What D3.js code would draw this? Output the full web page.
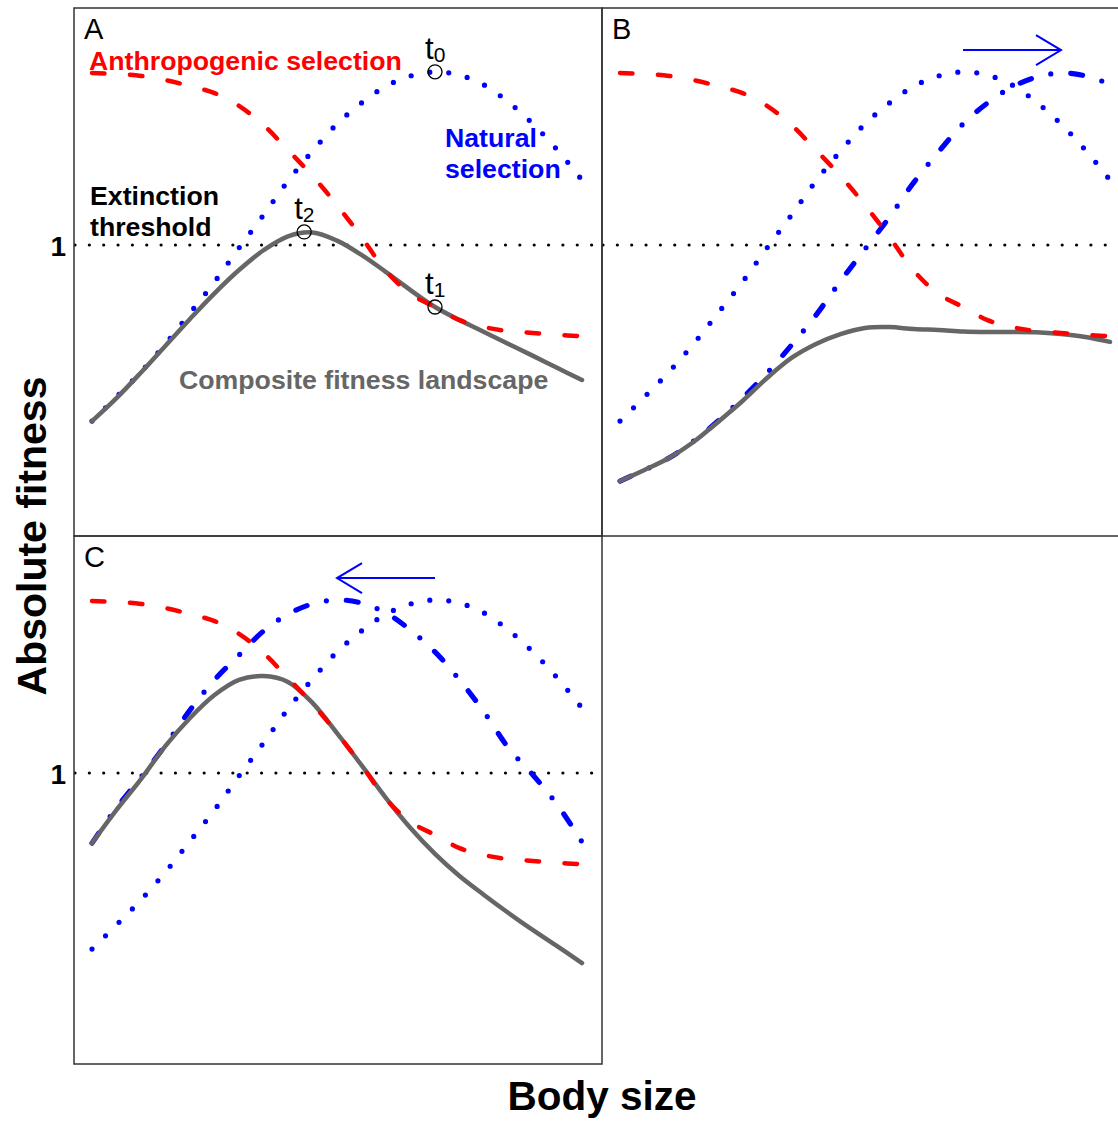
<!DOCTYPE html>
<html>
<head>
<meta charset="utf-8">
<script src="https://cdn.jsdelivr.net/npm/d3@7"></script>
<style>
	body { margin: 0; background: #fff; }
	svg { display: block; font-family: "Liberation Sans", Arial, sans-serif; }
</style>
</head>
<body>
<svg class="canvas"></svg>
<script>
const bodySize = [0, 0.5, 1, 1.5, 2, 2.5, 3, 3.5, 4, 4.5, 5, 5.5, 6, 6.5, 7, 7.5, 8, 8.5, 9, 9.5, 10];

// absolute fitness (1 = extinction threshold)
const anthropogenic = [1.591, 1.588, 1.581, 1.567, 1.546, 1.522, 1.478, 1.412, 1.326, 1.237, 1.137, 1.027, 0.911, 0.832, 0.787, 0.742, 0.718, 0.704, 0.698, 0.691, 0.687];
const naturalOriginal = [0.395, 0.478, 0.564, 0.660, 0.766, 0.873, 0.990, 1.103, 1.220, 1.323, 1.416, 1.488, 1.546, 1.581, 1.595, 1.584, 1.550, 1.491, 1.416, 1.326, 1.223];
const compositeA = [0.395, 0.474, 0.562, 0.654, 0.746, 0.834, 0.914, 0.982, 1.030, 1.043, 1.015, 0.966, 0.907, 0.845, 0.787, 0.742, 0.701, 0.660, 0.619, 0.577, 0.536];

const naturalLarger = [0.189, 0.227, 0.268, 0.326, 0.395, 0.474, 0.560, 0.656, 0.759, 0.876, 0.986, 1.096, 1.216, 1.320, 1.416, 1.488, 1.543, 1.577, 1.591, 1.581, 1.553];
const compositeB = [0.189, 0.227, 0.268, 0.323, 0.392, 0.464, 0.543, 0.612, 0.660, 0.694, 0.715, 0.718, 0.711, 0.708, 0.703, 0.701, 0.701, 0.700, 0.694, 0.684, 0.667];

const naturalSmaller = [0.759, 0.880, 0.986, 1.096, 1.216, 1.320, 1.405, 1.488, 1.546, 1.581, 1.595, 1.584, 1.550, 1.491, 1.416, 1.320, 1.210, 1.086, 0.993, 0.890, 0.763];
const compositeC = [0.759, 0.873, 0.979, 1.093, 1.189, 1.268, 1.320, 1.333, 1.313, 1.241, 1.137, 1.027, 0.914, 0.811, 0.722, 0.646, 0.581, 0.519, 0.460, 0.404, 0.347];

// time points marked in panel A
const markerNames = ["0", "1", "2"];
const markerX = [7, 7, 4.33];
const markerY = [1.595, 0.787, 1.045];

// shift of the natural optimum (from, to)
const shiftB = [7, 9];
const shiftC = [7, 5];
const arrowLevel = 1.67;

const width = 1118;
const height = 1124;
const size = 528;

const panels = [
	{ name: "A", left: 74, top: 8, shifted: null, composite: compositeA, arrow: null },
	{ name: "B", left: 602, top: 8, shifted: naturalLarger, composite: compositeB, arrow: shiftB },
	{ name: "C", left: 74, top: 536, shifted: naturalSmaller, composite: compositeC, arrow: shiftC }
];

const x = d3.scaleLinear().domain([0, 10]).range([18, 508]);
const y = d3.scaleLinear().domain([0, 1]).range([528, 237]);

const line = d3.line()
	.x((d, i) => x(bodySize[i]))
	.y(d => y(d))
	.curve(d3.curveCatmullRom);

const svg = d3.select(".canvas")
	.attr("width", width)
	.attr("height", height);

panels.forEach(p => {
	svg.append("clipPath")
		.attr("id", "clip" + p.name)
		.append("rect")
		.attr("width", size)
		.attr("height", size);

	const g = svg.append("g")
		.attr("transform", `translate(${p.left},${p.top})`);

	const inner = g.append("g").attr("clip-path", `url(#clip${p.name})`);

	// extinction threshold
	inner.append("line")
		.attr("x1", 1)
		.attr("x2", size)
		.attr("y1", y(1))
		.attr("y2", y(1))
		.attr("stroke", "#000")
		.attr("stroke-width", 3.2)
		.attr("stroke-linecap", "round")
		.attr("stroke-dasharray", "0,14.35");

	inner.append("path")
		.attr("d", line(naturalOriginal))
		.attr("fill", "none")
		.attr("stroke", "#0000ff")
		.attr("stroke-width", 5.2)
		.attr("stroke-linecap", "round")
		.attr("stroke-dasharray", "0,19");

	if (p.shifted) {
		inner.append("path")
			.attr("d", line(p.shifted))
			.attr("fill", "none")
			.attr("stroke", "#0000ff")
			.attr("stroke-width", 5.2)
			.attr("stroke-linecap", "round")
			.attr("stroke-dasharray", "12,20,0,20");
	}

	inner.append("path")
		.attr("d", line(p.composite))
		.attr("fill", "none")
		.attr("stroke", "#666")
		.attr("stroke-width", 4.5)
		.attr("stroke-linecap", "round");

	inner.append("path")
		.attr("d", line(anthropogenic))
		.attr("fill", "none")
		.attr("stroke", "#ff0000")
		.attr("stroke-width", 4.5)
		.attr("stroke-linecap", "round")
		.attr("stroke-dasharray", "12.5,25.5");

	if (p.arrow) {
		const ay = y(arrowLevel);
		const x0 = x(p.arrow[0]), x1 = x(p.arrow[1]);
		const dir = Math.sign(x1 - x0);
		inner.append("line")
			.attr("x1", x0).attr("x2", x1)
			.attr("y1", ay).attr("y2", ay)
			.attr("stroke", "#0000ff")
			.attr("stroke-width", 2);
		inner.append("polyline")
			.attr("points", [[x1 - dir * 25, ay - 15], [x1, ay], [x1 - dir * 25, ay + 15]].join(" "))
			.attr("fill", "none")
			.attr("stroke", "#0000ff")
			.attr("stroke-width", 2);
	}

	g.append("rect")
		.attr("width", size)
		.attr("height", size)
		.attr("fill", "none")
		.attr("stroke", "#333")
		.attr("stroke-width", 1.5);

	g.append("text")
		.attr("x", 10)
		.attr("y", 31)
		.attr("font-size", 29)
		.text(p.name);

	if (p.left === 74) {
		g.append("text")
			.attr("x", -8)
			.attr("y", y(1) + 11)
			.attr("text-anchor", "end")
			.attr("font-size", 28)
			.attr("font-weight", "bold")
			.text("1");
	}

	if (p.name === "A") {
		const marks = g.append("g");
		markerNames.forEach((m, i) => {
			marks.append("circle")
				.attr("cx", x(markerX[i]))
				.attr("cy", y(markerY[i]))
				.attr("r", 7)
				.attr("fill", "none")
				.attr("stroke", "#000")
				.attr("stroke-width", 1.3);
			const t = marks.append("text")
				.attr("x", x(markerX[i]) - 10)
				.attr("y", y(markerY[i]) - 13)
				.attr("font-size", 31);
			t.append("tspan").text("t");
			t.append("tspan").attr("font-size", 21).attr("dy", 3).text(m);
		});

		g.append("text")
			.attr("x", 15)
			.attr("y", 62)
			.attr("font-size", 26.7)
			.attr("font-weight", "bold")
			.attr("fill", "#ff0000")
			.text("Anthropogenic selection");

		const nat = g.append("text")
			.attr("font-size", 26.7)
			.attr("font-weight", "bold")
			.attr("fill", "#0000ff");
		nat.append("tspan").attr("x", 371).attr("y", 139).text("Natural");
		nat.append("tspan").attr("x", 371).attr("y", 170).text("selection");

		const ext = g.append("text")
			.attr("font-size", 26.7)
			.attr("font-weight", "bold")
			.attr("fill", "#000");
		ext.append("tspan").attr("x", 16).attr("y", 197).text("Extinction");
		ext.append("tspan").attr("x", 16).attr("y", 228).text("threshold");

		g.append("text")
			.attr("x", 105)
			.attr("y", 381)
			.attr("font-size", 26.7)
			.attr("font-weight", "bold")
			.attr("fill", "#666")
			.text("Composite fitness landscape");
	}
});

svg.append("text")
	.attr("transform", "translate(46,536) rotate(-90)")
	.attr("text-anchor", "middle")
	.attr("font-size", 41)
	.attr("font-weight", "bold")
	.text("Absolute fitness");

svg.append("text")
	.attr("x", 602)
	.attr("y", 1110)
	.attr("text-anchor", "middle")
	.attr("font-size", 40.5)
	.attr("font-weight", "bold")
	.text("Body size");
</script>
</body>
</html>
